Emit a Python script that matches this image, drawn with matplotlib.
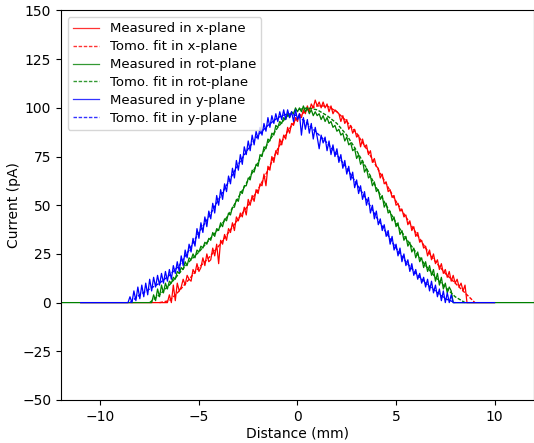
import numpy as np
import matplotlib
matplotlib.use("Agg")
import matplotlib.pyplot as plt

# ---- measured profiles (pA), sampled every 0.1 mm over the non-zero part ----
x_meas_start = -6.7
x_meas_end = 8.5
x_span = (-11.0, 10.0)
x_meas = [
    0, 0, 4, 0, 9, 1, 10, 6, 8, 12,
    9, 14, 12, 11, 17, 15, 20, 16, 18, 23,
    19, 25, 21, 22, 28, 24, 30, 20, 32, 30,
    35, 32, 38, 36, 41, 37, 44, 42, 46, 44,
    49, 45, 53, 50, 55, 52, 58, 56, 61, 60,
    66, 60, 70, 68, 75, 72, 78, 76, 84, 81,
    86, 84, 90, 87, 92, 91, 95, 93, 97, 95,
    99, 97, 101, 98, 102, 100, 104, 101, 103, 100,
    103, 100, 102, 98, 101, 97, 99, 98, 97, 93,
    96, 92, 94, 89, 91, 87, 89, 85, 86, 80,
    84, 80, 81, 76, 78, 72, 74, 70, 69, 64,
    66, 61, 62, 57, 58, 54, 55, 50, 51, 47,
    48, 44, 45, 40, 42, 37, 39, 34, 36, 31,
    32, 28, 29, 24, 27, 22, 25, 20, 22, 17,
    20, 15, 17, 13, 16, 11, 14, 10, 12, 8,
    10, 6, 9,
]

rot_meas_start = -7.4
rot_meas_end = 7.8
rot_span = (-12.0, 12.0)
rot_meas = [
    0, 4, 1, 7, 3, 9, 5, 10, 7, 11,
    10, 13, 12, 16, 15, 18, 17, 21, 19, 23,
    22, 25, 23, 27, 26, 29, 28, 31, 30, 33,
    32, 36, 34, 38, 37, 41, 39, 43, 42, 46,
    45, 49, 49, 53, 52, 57, 56, 60, 60, 64,
    63, 68, 67, 71, 70, 76, 75, 80, 79, 84,
    83, 87, 86, 91, 90, 93, 92, 95, 94, 97,
    95, 98, 97, 100, 98, 100, 98, 101, 98, 100,
    97, 99, 96, 98, 96, 97, 94, 96, 93, 95,
    92, 93, 90, 91, 88, 89, 86, 87, 83, 85,
    81, 82, 78, 79, 74, 76, 71, 73, 67, 69,
    64, 65, 60, 62, 57, 58, 53, 55, 49, 51,
    46, 47, 42, 44, 39, 41, 35, 37, 32, 34,
    29, 31, 26, 28, 23, 26, 21, 23, 18, 21,
    16, 19, 14, 17, 11, 15, 9, 13, 7, 10,
    5, 8, 6,
]

y_meas_start = -8.6
y_meas_end = 7.9
y_span = (-11.0, 10.0)
y_meas = [
    0, 3, 0, 6, 1, 8, 2, 9, 3, 10,
    4, 12, 6, 13, 8, 14, 9, 15, 10, 16,
    11, 17, 12, 19, 15, 21, 16, 24, 19, 27,
    23, 30, 26, 33, 29, 38, 33, 41, 36, 44,
    39, 47, 43, 51, 46, 55, 50, 58, 53, 61,
    57, 65, 61, 69, 64, 73, 68, 76, 71, 80,
    76, 83, 78, 86, 81, 88, 84, 90, 86, 92,
    88, 95, 90, 96, 92, 97, 93, 98, 94, 99,
    94, 99, 95, 98, 93, 99, 94, 97, 86, 95,
    89, 94, 87, 92, 84, 90, 85, 79, 86, 82,
    85, 78, 83, 76, 81, 75, 79, 72, 76, 69,
    73, 66, 70, 63, 67, 59, 63, 56, 60, 53,
    57, 50, 54, 46, 50, 43, 47, 40, 43, 37,
    40, 34, 37, 30, 34, 27, 30, 24, 28, 21,
    25, 19, 22, 16, 20, 14, 17, 12, 15, 10,
    13, 8, 12, 6, 11, 5, 9, 3, 7, 1,
    6, 0, 5, 0, 4, 0,
]

# ---- tomographic fits, every 0.5 mm ----
x_fit_start, x_fit_end = -7.0, 9.0
x_fit = [0, 1, 6, 12, 18, 23, 29, 36, 43, 50, 58, 68, 79, 88, 95, 99, 101,
         101, 98, 93, 87, 79, 70, 61, 52, 44, 36, 28, 21, 15, 10, 5, 0]

rot_fit_start, rot_fit_end = -7.5, 8.5
rot_fit = [0, 4, 9, 15, 21, 26, 32, 38, 45, 54, 63, 72, 82, 90, 96, 99, 100,
           99, 96, 92, 86, 78, 69, 59, 50, 41, 33, 26, 19, 13, 8, 3, 0]

y_fit_start, y_fit_end = -8.5, 8.0
y_fit = [0, 4, 7, 10, 14, 19, 27, 36, 44, 53, 62, 71, 79, 86, 91, 95, 97, 96,
         92, 87, 82, 76, 69, 61, 53, 44, 36, 28, 21, 15, 10, 6, 2, 0]


def padded(values, start, end, span, step=0.1):
    """Profile between start and end, with zero current out to span."""
    xs = np.linspace(start, end, len(values))
    xs = np.concatenate([[span[0], start - step], xs, [end + step, span[1]]])
    ys = np.concatenate([[0, 0], values, [0, 0]])
    return xs, ys


fig = plt.figure(figsize=(5.34, 4.43), dpi=100)
ax = fig.add_axes([0.1142, 0.0971, 0.8858, 0.8792])

series = [
    ("x-plane", "red", x_meas, x_meas_start, x_meas_end, x_span,
     x_fit, x_fit_start, x_fit_end),
    ("rot-plane", "green", rot_meas, rot_meas_start, rot_meas_end, rot_span,
     rot_fit, rot_fit_start, rot_fit_end),
    ("y-plane", "blue", y_meas, y_meas_start, y_meas_end, y_span,
     y_fit, y_fit_start, y_fit_end),
]

for name, col, meas, m0, m1, span, fit, f0, f1 in series:
    xm, ym = padded(meas, m0, m1, span)
    ax.plot(xm, ym, color=col, linewidth=0.9, label=f"Measured in {name}")
    xf = np.linspace(f0, f1, len(fit))
    ax.plot(xf, fit, color=col, linewidth=1.0, dashes=(2.5, 1.2),
            label=f"Tomo. fit in {name}")

ax.set_xlim(-12, 12)
ax.set_ylim(-50, 150)
ax.set_xticks([-10, -5, 0, 5, 10])
ax.set_yticks(np.arange(-50, 151, 25))
ax.tick_params(labelsize=10)
ax.set_xlabel("Distance (mm)", fontsize=10, labelpad=2)
ax.set_ylabel("Current (pA)", fontsize=10, labelpad=1)
leg = ax.legend(loc="upper left", fontsize=9.5, labelspacing=0.37)
for h in leg.get_lines():
    h.set_alpha(0.8)

fig.savefig("out.png", dpi=100)
